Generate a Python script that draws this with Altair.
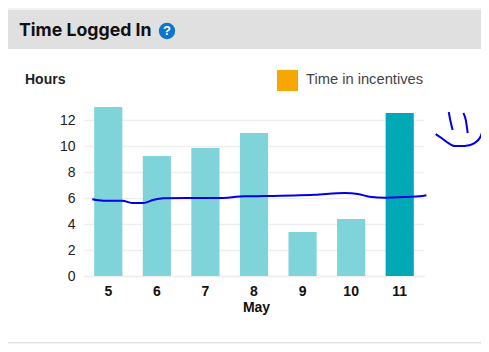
import altair as alt
import pandas as pd

days = ["5", "6", "7", "8", "9", "10", "11"]
hours = [13.0, 9.23, 9.85, 11.0, 3.38, 4.38, 12.54]
kinds = ["past", "past", "past", "past", "past", "past", "today"]

line_day = [4.67, 4.90, 5.29, 5.49, 5.72, 5.92, 6.13, 6.62, 7.24, 7.81, 8.23, 9.25, 9.87, 10.14, 10.38, 10.69, 11.16, 11.41, 11.55]
line_hours = [5.90, 5.79, 5.79, 5.62, 5.62, 5.85, 5.98, 6.0, 6.0, 6.13, 6.15, 6.25, 6.38, 6.31, 6.10, 6.02, 6.08, 6.13, 6.21]

eye1_day = [12.01, 12.04, 12.09]
eye1_hours = [12.62, 12.0, 11.23]
eye2_day = [12.31, 12.36, 12.40]
eye2_hours = [12.54, 12.0, 11.0]
mouth_day = [11.74, 11.86, 11.97, 12.13, 12.34, 12.54, 12.66, 12.73]
mouth_hours = [10.92, 10.62, 10.31, 10.0, 10.0, 10.23, 10.69, 11.46]

bars_df = pd.DataFrame({"day": days, "hours": hours, "kind": kinds})
rows = []
for name, xs, ys in [("line", line_day, line_hours), ("eye1", eye1_day, eye1_hours),
                     ("eye2", eye2_day, eye2_hours), ("mouth", mouth_day, mouth_hours)]:
    for i, (a, b) in enumerate(zip(xs, ys)):
        rows.append({"stroke": name, "order": i, "d": a, "h": b})
ink_df = pd.DataFrame(rows)

FONT = "Liberation Sans"
y_scale = alt.Scale(domain=[0, 13.54], nice=False, zero=False)
y_axis = alt.Axis(title=None, values=[0, 2, 4, 6, 8, 10, 12], labelFont=FONT,
                  labelFontSize=14, labelColor="#222", labelPadding=9, ticks=False,
                  labelOverlap=False, domain=False, grid=True,
                  gridColor="#eeeeee", gridWidth=1.5)

bars = alt.Chart(bars_df).mark_bar().encode(
    x=alt.X("day:N", sort=days,
            scale=alt.Scale(paddingInner=0.42, paddingOuter=0.21),
            axis=alt.Axis(title="May", labelAngle=0, labelFont=FONT, labelFontSize=14,
                          labelFontWeight="bold", labelColor="#111", labelPadding=8,
                          titleFont=FONT, titleFontSize=14, titleFontWeight="bold",
                          titleColor="#111", titlePadding=2, titleX=172, ticks=False,
                          domainColor="#eeeeee", domainWidth=1.5)),
    y=alt.Y("hours:Q", scale=y_scale, axis=y_axis),
    color=alt.Color("kind:N", legend=None,
                    scale=alt.Scale(domain=["past", "today"], range=["#7fd4da", "#00a9b5"])),
)

ink = alt.Chart(ink_df).mark_line(color="#0000e6", strokeWidth=2, interpolate="monotone").encode(
    x=alt.X("d:Q", scale=alt.Scale(domain=[4.5, 11.5], nice=False, zero=False), axis=None),
    y=alt.Y("h:Q", scale=y_scale, axis=y_axis),
    detail="stroke:N",
    order="order:Q",
)

def box(x0, x1, y0, y1, color):
    return alt.Chart(pd.DataFrame({"a": [0]})).mark_rect(color=color).encode(
        x=alt.value(x0), x2=alt.value(x1), y=alt.value(y0), y2=alt.value(y1))

def label(text, x, y, size, weight="normal", color="#222", font=FONT, align="left"):
    return alt.Chart(pd.DataFrame({"t": [text]})).mark_text(
        font=font, fontSize=size, fontWeight=weight, color=color, align=align, baseline="middle"
    ).encode(text="t:N", x=alt.value(x), y=alt.value(y))

header = box(-76, 405, -90, -51, "#e0e0e0")
top_edge = box(-76, 405, -92, -90, "#f2f2f2")
bottom_edge = box(-76, 405, 242, 243.5, "#e2e2e2")
title = label("Time Logged In", -65, -69.5, 17.7, "bold", "#111", "Inter")
icon = alt.Chart(pd.DataFrame({"a": [0]})).mark_point(
    filled=True, color="#0f74d0", size=270, shape="circle", opacity=1
).encode(x=alt.value(83), y=alt.value(-69))
icon_q = label("?", 83, -69, 13, "bold", "#ffffff", FONT, "center")
hours_lab = label("Hours", -59, -20.5, 14, "bold", "#222")
swatch = box(193, 214, -30, -9, "#f7a800")
legend_lab = label("Time in incentives", 222, -20.5, 14.7, "normal", "#444")

chart = alt.layer(
    top_edge, header, bottom_edge, bars, ink, title, icon, icon_q, hours_lab, swatch, legend_lab
).resolve_scale(x="independent").properties(
    width=340, height=176,
    padding={"left": 76, "top": 92, "right": 57, "bottom": 68},
    autosize=alt.AutoSizeParams(type="none"),
    background="white",
).configure_view(stroke=None)

chart.save("out.html", embed_options={"renderer": "svg", "actions": False})
